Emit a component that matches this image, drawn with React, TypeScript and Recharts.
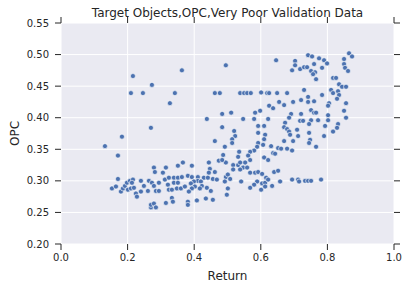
import React from 'react';
import { ScatterChart, Scatter, XAxis, YAxis, CartesianGrid } from 'recharts';

const returnValues: number[] = [
  0.132, 0.171, 0.183, 0.171, 0.153, 0.165, 0.180, 0.186, 0.192, 0.201, 0.198, 0.207, 0.216, 0.213, 0.210, 0.219, 0.225, 0.228, 0.240, 0.240,
  0.249, 0.261, 0.264, 0.270, 0.270, 0.279, 0.285, 0.279, 0.282, 0.273, 0.279, 0.285, 0.294, 0.294, 0.306, 0.315, 0.312, 0.321, 0.315, 0.324,
  0.324, 0.333, 0.336, 0.339, 0.339, 0.333, 0.351, 0.366, 0.351, 0.363, 0.351, 0.348, 0.360, 0.381, 0.381, 0.381, 0.372,
  0.210, 0.246, 0.216, 0.273, 0.363, 0.342, 0.327, 0.270, 0.495, 0.462, 0.477, 0.538, 0.550, 0.559, 0.570, 0.438, 0.484, 0.511, 0.547, 0.580,
  0.583, 0.484, 0.520, 0.523, 0.514, 0.514, 0.462, 0.592, 0.592, 0.592,
  0.492, 0.589, 0.580, 0.568, 0.607, 0.487, 0.474, 0.495, 0.484, 0.535, 0.532, 0.562, 0.568, 0.553, 0.517, 0.532, 0.538, 0.547, 0.559, 0.538,
  0.517, 0.568, 0.583, 0.592, 0.604, 0.541, 0.589, 0.580, 0.568, 0.604, 0.601, 0.393, 0.444, 0.447, 0.462, 0.444, 0.429, 0.441, 0.456, 0.468,
  0.495, 0.501, 0.508, 0.492, 0.501, 0.498, 0.393, 0.411, 0.411, 0.420, 0.399, 0.390, 0.402, 0.423, 0.438, 0.450, 0.393, 0.417, 0.384, 0.408,
  0.435, 0.456, 0.613,
  0.646, 0.742, 0.754, 0.775, 0.790, 0.799, 0.865, 0.874, 0.850, 0.850, 0.853, 0.862, 0.703, 0.703, 0.694, 0.718, 0.730, 0.739, 0.760, 0.751,
  0.763, 0.757, 0.784, 0.766, 0.817, 0.826, 0.835, 0.844, 0.856, 0.811, 0.817, 0.832, 0.835, 0.829, 0.856, 0.805, 0.802, 0.850, 0.856, 0.730,
  0.742, 0.760, 0.742, 0.784, 0.721, 0.697, 0.670, 0.655, 0.625, 0.637, 0.601, 0.619, 0.625, 0.649, 0.679, 0.751, 0.760, 0.766, 0.802, 0.691,
  0.685, 0.721, 0.751, 0.772, 0.598, 0.622, 0.673, 0.718, 0.727, 0.745, 0.802, 0.832,
  0.610, 0.670, 0.679, 0.685, 0.688, 0.709, 0.712, 0.793, 0.829, 0.817, 0.790, 0.745, 0.697, 0.670, 0.748, 0.745, 0.766, 0.613, 0.610, 0.631,
  0.652, 0.661, 0.679, 0.694, 0.637, 0.643, 0.610, 0.622, 0.640, 0.652, 0.616, 0.622, 0.658, 0.694, 0.712, 0.715, 0.733, 0.742, 0.751, 0.781,
  0.634, 0.613,
];

const opcValues: number[] = [
  0.355, 0.340, 0.370, 0.303, 0.288, 0.291, 0.283, 0.288, 0.292, 0.286, 0.297, 0.300, 0.302, 0.297, 0.288, 0.289, 0.280, 0.275, 0.300, 0.283,
  0.292, 0.284, 0.300, 0.258, 0.262, 0.264, 0.258, 0.321, 0.314, 0.297, 0.292, 0.284, 0.284, 0.297, 0.313, 0.321, 0.302, 0.294, 0.265, 0.305,
  0.286, 0.273, 0.267, 0.305, 0.297, 0.286, 0.324, 0.329, 0.305, 0.306, 0.297, 0.288, 0.288, 0.308, 0.267, 0.262, 0.291,
  0.439, 0.439, 0.466, 0.452, 0.475, 0.439, 0.423, 0.384, 0.483, 0.439, 0.439, 0.439, 0.439, 0.439, 0.439, 0.398, 0.406, 0.408, 0.398, 0.398,
  0.408, 0.385, 0.379, 0.371, 0.366, 0.360, 0.363, 0.387, 0.376, 0.360,
  0.354, 0.354, 0.348, 0.346, 0.357, 0.341, 0.332, 0.329, 0.333, 0.346, 0.338, 0.340, 0.333, 0.329, 0.325, 0.325, 0.329, 0.321, 0.321, 0.318,
  0.318, 0.313, 0.313, 0.314, 0.311, 0.299, 0.299, 0.294, 0.289, 0.296, 0.286, 0.324, 0.329, 0.319, 0.314, 0.313, 0.305, 0.305, 0.303, 0.302,
  0.306, 0.310, 0.303, 0.299, 0.288, 0.278, 0.306, 0.306, 0.300, 0.299, 0.299, 0.296, 0.291, 0.292, 0.289, 0.284, 0.288, 0.288, 0.283, 0.269,
  0.272, 0.270, 0.297,
  0.491, 0.499, 0.497, 0.494, 0.491, 0.486, 0.502, 0.497, 0.493, 0.485, 0.479, 0.474, 0.490, 0.483, 0.475, 0.477, 0.480, 0.480, 0.485, 0.474,
  0.472, 0.469, 0.479, 0.461, 0.463, 0.463, 0.453, 0.449, 0.449, 0.444, 0.439, 0.442, 0.436, 0.430, 0.423, 0.423, 0.419, 0.411, 0.400, 0.444,
  0.433, 0.426, 0.425, 0.436, 0.428, 0.425, 0.420, 0.425, 0.419, 0.415, 0.440, 0.439, 0.439, 0.439, 0.439, 0.412, 0.408, 0.408, 0.404, 0.406,
  0.400, 0.406, 0.396, 0.396, 0.411, 0.398, 0.392, 0.395, 0.395, 0.390, 0.396, 0.390,
  0.387, 0.385, 0.382, 0.378, 0.373, 0.381, 0.371, 0.387, 0.384, 0.378, 0.371, 0.376, 0.363, 0.363, 0.365, 0.360, 0.354, 0.373, 0.366, 0.355,
  0.352, 0.351, 0.351, 0.348, 0.344, 0.343, 0.337, 0.333, 0.314, 0.316, 0.305, 0.302, 0.299, 0.302, 0.302, 0.299, 0.300, 0.300, 0.300, 0.302,
  0.292, 0.291,
];

const xTicks: number[] = [0, 0.2, 0.4, 0.6, 0.8, 1.0];
const yTicks: number[] = [0.2, 0.25, 0.3, 0.35, 0.4, 0.45, 0.5, 0.55];

const titleText = 'Target Objects,OPC,Very Poor Validation Data';
const xLabel = 'Return';
const yLabel = 'OPC';

const points = returnValues.map((x, i) => ({ x, y: opcValues[i] }));

const FONT = '"DejaVu Sans", sans-serif';
const TEXT = '#262626';

const Dot = (props: any) => {
  const { cx, cy } = props;
  if (cx == null || cy == null) return null;
  return <circle cx={cx} cy={cy} r={2.5} fill="#4C72B0" stroke="#ffffff" strokeWidth={0.6} />;
};

const NoDot = () => null;
const blank = () => '';

export default function App() {
  return (
    <div style={{ position: 'absolute', left: 0, top: 0, width: 410, height: 290, background: '#fff' }}>
      <div
        style={{
          position: 'absolute',
          left: 61,
          width: 333,
          top: 7,
          lineHeight: '12px',
          fontSize: 12,
          fontFamily: FONT,
          color: TEXT,
          textAlign: 'center',
          whiteSpace: 'nowrap',
        }}
      >
        {titleText}
      </div>
      <ScatterChart width={410} height={290} margin={{ top: 17, right: 10, bottom: 1, left: 0 }}>
        <CartesianGrid xAxisId="bottom" yAxisId="left" fill="#EAEAF2" stroke="#ffffff" strokeWidth={1} />
        <XAxis
          xAxisId="bottom"
          dataKey="x"
          type="number"
          domain={[0, 1]}
          ticks={xTicks}
          tickFormatter={(v: number) => v.toFixed(1)}
          axisLine={false}
          tickLine={{ stroke: TEXT }}
          tickSize={6}
          tickMargin={4}
          height={45}
          tick={{ fill: TEXT, fontSize: 10, fontFamily: FONT }}
          allowDataOverflow
          label={{
            content: (p: any) => (
              <text x={p.viewBox.x + p.viewBox.width / 2} y={p.viewBox.y + 36} textAnchor="middle" fill={TEXT} fontSize={12} fontFamily={FONT}>
                {xLabel}
              </text>
            ),
          }}
        />
        <XAxis
          xAxisId="top"
          dataKey="x"
          orientation="top"
          type="number"
          domain={[0, 1]}
          ticks={xTicks}
          axisLine={false}
          tickLine={{ stroke: TEXT }}
          tickSize={6}
          height={6}
          tickFormatter={blank}
          tick={{ fontSize: 1 }}
          allowDataOverflow
        />
        <YAxis
          yAxisId="left"
          dataKey="y"
          type="number"
          domain={[0.2, 0.55]}
          ticks={yTicks}
          tickFormatter={(v: number) => v.toFixed(2)}
          axisLine={false}
          tickLine={{ stroke: TEXT }}
          tickSize={6}
          tickMargin={6}
          width={61}
          tick={{ fill: TEXT, fontSize: 10, fontFamily: FONT }}
          allowDataOverflow
          label={{
            content: (p: any) => {
              const cx = p.viewBox.x + 15;
              const cy = p.viewBox.y + p.viewBox.height / 2;
              return (
                <text x={cx} y={cy} transform={`rotate(-90 ${cx} ${cy})`} textAnchor="middle" dominantBaseline="central" fill={TEXT} fontSize={12} fontFamily={FONT}>
                  {yLabel}
                </text>
              );
            },
          }}
        />
        <YAxis
          yAxisId="right"
          dataKey="y"
          orientation="right"
          type="number"
          domain={[0.2, 0.55]}
          ticks={yTicks}
          axisLine={false}
          tickLine={{ stroke: TEXT }}
          tickSize={6}
          width={6}
          tickFormatter={blank}
          tick={{ fontSize: 1 }}
          allowDataOverflow
        />
        <Scatter
          data={points}
          xAxisId="top"
          yAxisId="right"
          isAnimationActive={false}
          shape={<NoDot />}
        />
        <Scatter
          data={points}
          xAxisId="bottom"
          yAxisId="left"
          isAnimationActive={false}
          shape={<Dot />}
        />
      </ScatterChart>
    </div>
  );
}
